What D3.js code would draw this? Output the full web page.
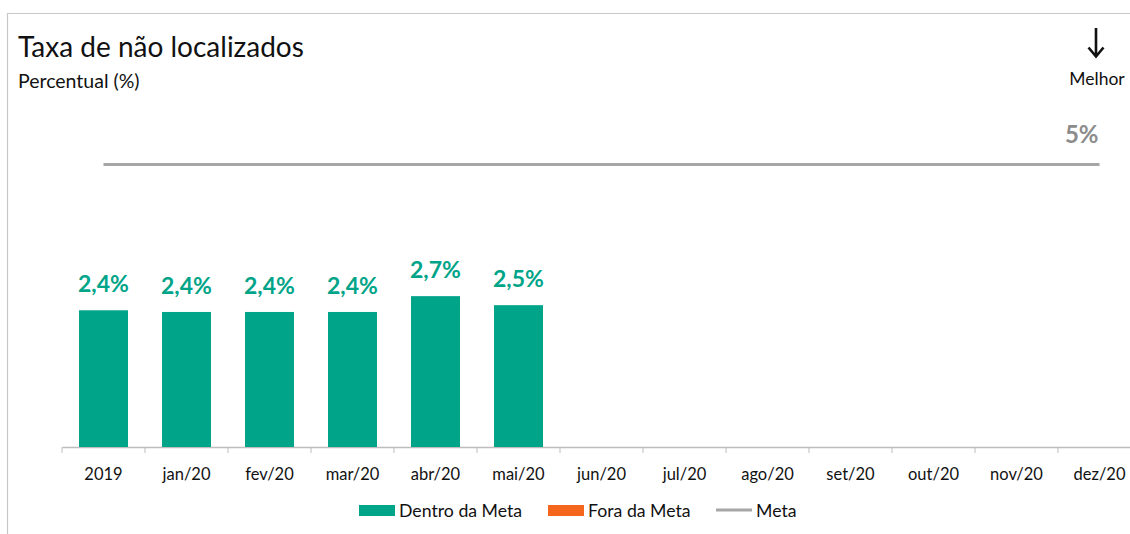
<!DOCTYPE html>
<html>
<head>
    <meta charset="utf-8">
    <style>
        body { margin: 0; background: #fff; }
        svg { display: block; font-family: Lato, 'Open Sans', sans-serif; }
    </style>
</head>
<body>
    <svg width="1130" height="534"></svg>
</body>
<script src="https://d3js.org/d3.v7.min.js"></script>
<script>
    // chart data
    let categories = ["2019", "jan/20", "fev/20", "mar/20", "abr/20", "mai/20", "jun/20",
        "jul/20", "ago/20", "set/20", "out/20", "nov/20", "dez/20"];
    let values = [2.42, 2.39, 2.39, 2.39, 2.67, 2.51];
    let labels = ["2,4%", "2,4%", "2,4%", "2,4%", "2,7%", "2,5%"];
    let meta = 5;
    let metaLabel = "5%";
    let legendItems = ["Dentro da Meta", "Fora da Meta", "Meta"];

    let green = "#00a488";
    let orange = "#f4661b";
    let grey = "#a6a6a6";

    let svg = d3.select("svg");

    // frame
    svg.append("path")
        .attr("d", "M7.5,534 V13.5 H1130")
        .attr("fill", "none")
        .attr("stroke", "#c8c8c8")
        .attr("stroke-width", 1.2);

    svg.append("text")
        .attr("x", 18).attr("y", 57)
        .attr("font-size", 28)
        .attr("fill", "#111")
        .text("Taxa de não localizados");
    svg.append("text")
        .attr("x", 18).attr("y", 88)
        .attr("font-size", 19.5)
        .attr("fill", "#111")
        .text("Percentual (%)");

    // "melhor" arrow
    svg.append("path")
        .attr("d", "M1096,28 V56 M1088.5,47.5 L1096,56.5 L1103.5,47.5")
        .attr("fill", "none")
        .attr("stroke", "#111")
        .attr("stroke-width", 2.6);
    svg.append("text")
        .attr("x", 1097).attr("y", 85)
        .attr("text-anchor", "middle")
        .attr("font-size", 17.5)
        .attr("fill", "#111")
        .text("Melhor");

    let x = d3.scaleBand()
        .domain(categories)
        .range([62, 62 + 83 * categories.length])
        .paddingInner(0.41)
        .paddingOuter(0.205);

    let y = d3.scaleLinear()
        .domain([0, meta])
        .range([447, 164.5]);

    // axis
    let xAxis = svg.append("g")
        .attr("transform", "translate(0,447)")
        .call(d3.axisBottom(x).tickSize(0).tickPadding(21));
    xAxis.select(".domain").attr("stroke", "#bdbdbd").attr("stroke-width", 1.5);
    xAxis.selectAll("text").attr("font-size", 16.5).attr("fill", "#111")
        .attr("font-family", "Lato, sans-serif");
    xAxis.selectAll(".sep")
        .data(d3.range(categories.length + 1))
        .join("line")
        .attr("class", "sep")
        .attr("x1", i => 62 + x.step() * i)
        .attr("x2", i => 62 + x.step() * i)
        .attr("y1", 0).attr("y2", 6)
        .attr("stroke", "#bdbdbd");

    // bars
    svg.append("g")
        .selectAll("rect")
        .data(values)
        .join("rect")
        .attr("x", (d, i) => x(categories[i]))
        .attr("y", d => y(d))
        .attr("width", x.bandwidth())
        .attr("height", d => y(0) - y(d))
        .attr("fill", green);

    svg.append("g")
        .selectAll("text")
        .data(values)
        .join("text")
        .attr("x", (d, i) => x(categories[i]) + x.bandwidth() / 2)
        .attr("y", d => y(d) - 18)
        .attr("text-anchor", "middle")
        .attr("font-size", 23)
        .attr("font-weight", "bold")
        .attr("fill", green)
        .text((d, i) => labels[i]);

    // meta line
    let first = x(categories[0]) + x.bandwidth() / 2;
    let last = x(categories[categories.length - 1]) + x.bandwidth() / 2;
    svg.append("line")
        .attr("x1", first).attr("x2", last)
        .attr("y1", y(meta)).attr("y2", y(meta))
        .attr("stroke", grey)
        .attr("stroke-width", 3);
    svg.append("text")
        .attr("x", last - 1).attr("y", y(meta) - 22)
        .attr("text-anchor", "end")
        .attr("font-size", 24)
        .attr("font-weight", "bold")
        .attr("fill", "#8c8c8c")
        .text(metaLabel);

    // legend
    let legend = svg.append("g").attr("transform", "translate(0,517)");
    let lx = [359, 548, 716];
    legend.append("rect").attr("x", lx[0]).attr("y", -12).attr("width", 36).attr("height", 11).attr("fill", green);
    legend.append("rect").attr("x", lx[1]).attr("y", -12).attr("width", 36).attr("height", 11).attr("fill", orange);
    legend.append("line").attr("x1", lx[2]).attr("x2", lx[2] + 36).attr("y1", -7).attr("y2", -7)
        .attr("stroke", grey).attr("stroke-width", 3);
    legend.selectAll("text")
        .data(legendItems)
        .join("text")
        .attr("x", (d, i) => lx[i] + 40)
        .attr("y", 0)
        .attr("font-size", 17.7)
        .attr("fill", "#111")
        .text(d => d);
</script>
</html>
